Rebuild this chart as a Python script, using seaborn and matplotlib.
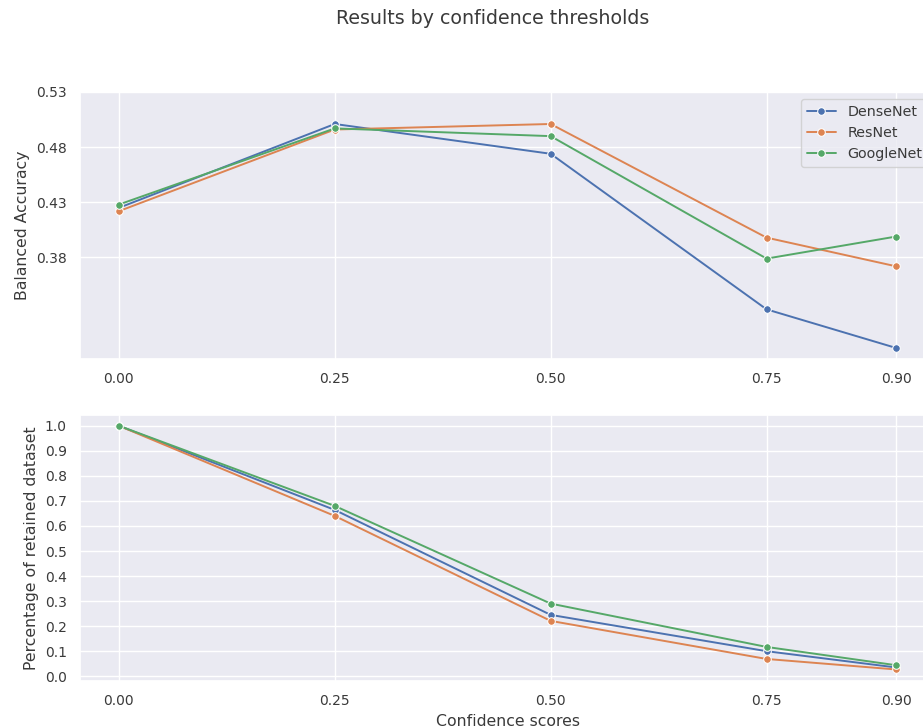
import numpy as np
import pandas as pd
import matplotlib
matplotlib.use("Agg")
import matplotlib.pyplot as plt
import seaborn as sns

thresholds = [0.0, 0.25, 0.50, 0.75, 0.90]
models = ["DenseNet", "ResNet", "GoogleNet"]

acc_densenet = [0.425, 0.501, 0.474, 0.333, 0.298]
acc_resnet = [0.422, 0.496, 0.501, 0.398, 0.372]
acc_googlenet = [0.428, 0.497, 0.490, 0.379, 0.399]

ret_densenet = [1.0, 0.664, 0.245, 0.100, 0.035]
ret_resnet = [1.0, 0.640, 0.221, 0.069, 0.027]
ret_googlenet = [1.0, 0.680, 0.290, 0.117, 0.044]

acc_ticks = [0.38, 0.43, 0.48, 0.53]
ret_ticks = [0.0, 0.1, 0.2, 0.3, 0.4, 0.5, 0.6, 0.7, 0.8, 0.9, 1.0]

rows = []
for m, a, r in zip(models, [acc_densenet, acc_resnet, acc_googlenet],
                   [ret_densenet, ret_resnet, ret_googlenet]):
    for t, av, rv in zip(thresholds, a, r):
        rows.append({"Model": m, "Confidence scores": t,
                     "Balanced Accuracy": av, "Percentage of retained dataset": rv})
df = pd.DataFrame(rows)

sns.set_theme(style="darkgrid")
plt.rcParams.update({
    "xtick.labelsize": 10,
    "ytick.labelsize": 10,
    "axes.labelsize": 11.3,
    "legend.fontsize": 10.3,
    "text.color": "#3a3a3a",
    "axes.labelcolor": "#3a3a3a",
    "xtick.color": "#3a3a3a",
    "ytick.color": "#3a3a3a",
    "lines.linewidth": 1.4,
    "lines.markersize": 5.5,
})
W, H = 923, 727
fig = plt.figure(figsize=(W / 100, H / 100), dpi=100)
L, R = 80 / W, 935 / W
ax1 = fig.add_axes([L, 1 - 359 / H, R - L, (359 - 92) / H])
ax2 = fig.add_axes([L, 1 - 681 / H, R - L, (681 - 415) / H])

sns.lineplot(data=df, x="Confidence scores", y="Balanced Accuracy", hue="Model",
             marker="o", ax=ax1, hue_order=models)
sns.lineplot(data=df, x="Confidence scores", y="Percentage of retained dataset",
             hue="Model", marker="o", ax=ax2, hue_order=models, legend=False)

for ax in (ax1, ax2):
    ax.set_xticks(thresholds)
    ax.set_xticklabels([f"{t:.2f}" for t in thresholds])
    ax.set_xlim(-0.045, 0.945)

ax1.set_yticks(acc_ticks)
ax1.set_yticklabels([f"{t:.2f}" for t in acc_ticks])
ax1.set_ylim(0.288, 0.53)
ax1.set_xlabel("")
ax1.legend(loc="upper right", title=None)

ax2.set_yticks(ret_ticks)
ax2.set_yticklabels([f"{t:.1f}" for t in ret_ticks])
ax2.set_ylim(-0.019, 1.043)

fig.suptitle("Results by confidence thresholds", x=493 / W, y=1 - 9 / H, va="top", fontsize=13.7)

fig.savefig("out.png", dpi=100)
